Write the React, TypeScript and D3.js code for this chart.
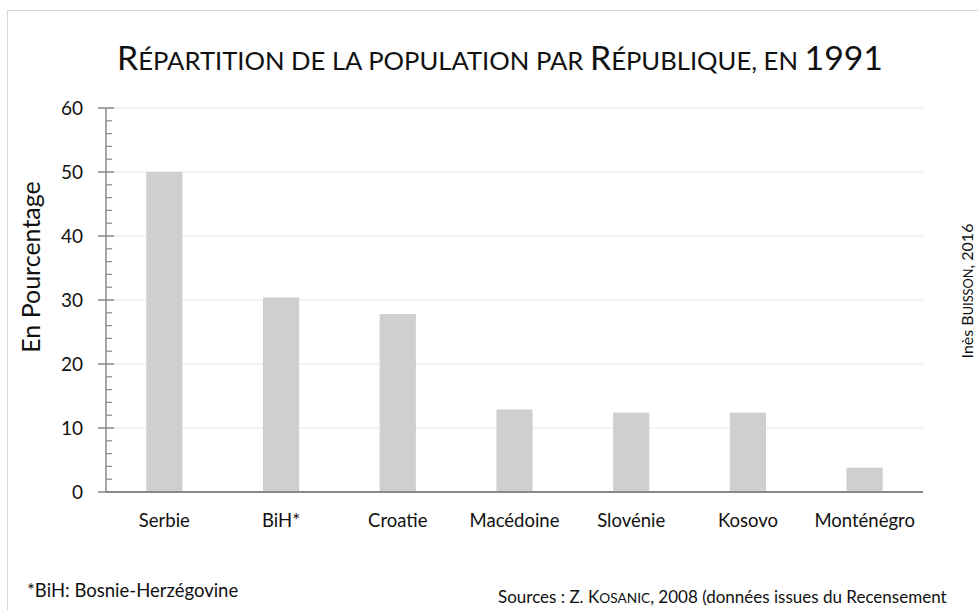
import React, { useRef, useEffect } from 'react';
import * as d3 from 'd3';

// données (en %)
const categories = ['Serbie', 'BiH*', 'Croatie', 'Macédoine', 'Slovénie', 'Kosovo', 'Monténégro'];
const populationShare = [50.0, 30.4, 27.8, 12.9, 12.4, 12.4, 3.8];
const yTicks = [0, 10, 20, 30, 40, 50, 60];

const FONT = 'Lato, "Open Sans", sans-serif';

const App = () => {
  const ref = useRef<SVGSVGElement>(null);

  useEffect(() => {
    const width = 978;
    const height = 610;
    const svg = d3.select(ref.current)
      .attr('width', width)
      .attr('height', height);

    svg.selectAll('*').remove();

    // cadre du graphique
    svg.append('rect')
      .attr('x', 7.5)
      .attr('y', 10.5)
      .attr('width', 1000)
      .attr('height', 700)
      .attr('fill', '#fff')
      .attr('stroke', '#d9d9d9');

    const x = d3.scaleBand<string>()
      .domain(categories)
      .range([106, 923])
      .paddingInner(0.69)
      .paddingOuter(0.345);

    const y = d3.scaleLinear()
      .domain([0, 60])
      .range([492, 108]);

    // grille
    svg.append('g')
      .selectAll('line')
      .data(yTicks.slice(1))
      .enter().append('line')
      .attr('x1', 106)
      .attr('x2', 923)
      .attr('y1', d => y(d))
      .attr('y2', d => y(d))
      .attr('stroke', '#efefef')
      .attr('stroke-width', 1.5);

    // barres
    svg.append('g')
      .selectAll('rect')
      .data(populationShare)
      .enter().append('rect')
      .attr('x', (d, i) => x(categories[i]) as number)
      .attr('width', x.bandwidth())
      .attr('y', d => y(d))
      .attr('height', d => y(0) - y(d))
      .attr('fill', '#d0cece');

    // axe Y : ligne, graduations majeures et mineures
    const axis = svg.append('g').attr('stroke', '#898989');
    axis.append('line')
      .attr('x1', 106).attr('x2', 106)
      .attr('y1', y(60)).attr('y2', y(0))
      .attr('stroke-width', 1.5);
    axis.selectAll('.minor')
      .data(y.ticks(30).filter(t => t % 10 !== 0))
      .enter().append('line')
      .attr('class', 'minor')
      .attr('x1', 106).attr('x2', 112)
      .attr('y1', d => y(d)).attr('y2', d => y(d))
      .attr('stroke-width', 1.2);
    axis.selectAll('.major')
      .data(yTicks)
      .enter().append('line')
      .attr('class', 'major')
      .attr('x1', 98).attr('x2', 114)
      .attr('y1', d => y(d)).attr('y2', d => y(d))
      .attr('stroke-width', 1.5);

    // axe X
    svg.append('line')
      .attr('x1', 106).attr('x2', 923)
      .attr('y1', y(0)).attr('y2', y(0))
      .attr('stroke', '#898989')
      .attr('stroke-width', 2);

    svg.append('g')
      .selectAll('text')
      .data(yTicks)
      .enter().append('text')
      .attr('x', 83)
      .attr('y', d => y(d))
      .attr('dy', '0.36em')
      .attr('text-anchor', 'end')
      .attr('font-family', FONT)
      .attr('font-size', 19)
      .attr('fill', '#111')
      .text(d => d);

    svg.append('g')
      .selectAll('text')
      .data(categories)
      .enter().append('text')
      .attr('x', d => (x(d) as number) + x.bandwidth() / 2)
      .attr('y', 527)
      .attr('text-anchor', 'middle')
      .attr('font-family', FONT)
      .attr('font-size', 18.5)
      .attr('fill', '#111')
      .text(d => d);

    // titre de l'axe Y
    svg.append('text')
      .attr('transform', 'translate(40,267) rotate(-90)')
      .attr('text-anchor', 'middle')
      .attr('font-family', FONT)
      .attr('font-size', 25)
      .attr('fill', '#111')
      .text('En Pourcentage');

    // titre en petites capitales
    const title = svg.append('text')
      .attr('x', 500)
      .attr('y', 70)
      .attr('text-anchor', 'middle')
      .attr('font-family', FONT)
      .attr('fill', '#111')
      .attr('textLength', 766)
      .attr('lengthAdjust', 'spacingAndGlyphs');
    const titleParts: [string, number][] = [
      ['R', 33], ['ÉPARTITION DE LA POPULATION PAR ', 25], ['R', 33],
      ['ÉPUBLIQUE, EN ', 25], ['1991', 33],
    ];
    titleParts.forEach(([t, s]) => title.append('tspan').attr('font-size', s).text(t));

    // auteur, vertical à droite
    const author = svg.append('text')
      .attr('transform', 'translate(973,291) rotate(-90)')
      .attr('text-anchor', 'middle')
      .attr('font-family', FONT)
      .attr('fill', '#111');
    const authorParts: [string, number][] = [['Inès B', 16], ['UISSON', 12.8], [', 2016', 16]];
    authorParts.forEach(([t, s]) => author.append('tspan').attr('font-size', s).text(t));

    // notes
    svg.append('text')
      .attr('x', 27)
      .attr('y', 597)
      .attr('font-family', FONT)
      .attr('font-size', 18.5)
      .attr('fill', '#111')
      .text('*BiH: Bosnie-Herzégovine');

    const sources = svg.append('text')
      .attr('x', 498)
      .attr('y', 603)
      .attr('font-family', FONT)
      .attr('fill', '#111');
    const sourceParts: [string, number][] = [
      ['Sources : Z. K', 17], ['OSANIC', 13.7], [', 2008 (données issues du Recensement', 17],
    ];
    sourceParts.forEach(([t, s]) => sources.append('tspan').attr('font-size', s).text(t));
  }, []);

  return <svg ref={ref} style={{ position: 'absolute', left: 0, top: 0 }}></svg>;
};

export default App;
